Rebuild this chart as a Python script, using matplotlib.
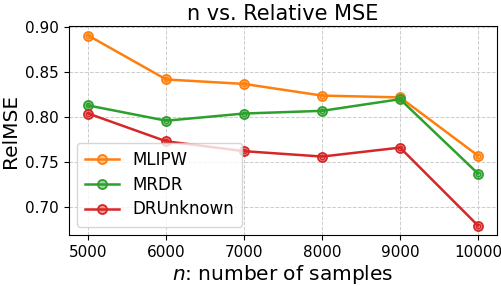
import numpy as np
import matplotlib
matplotlib.use('Agg')
from matplotlib import pyplot as plt

n_samples = [5000, 6000, 7000, 8000, 9000, 10000]
mlipw = [0.891, 0.842, 0.837, 0.824, 0.822, 0.757]
mrdr = [0.813, 0.796, 0.804, 0.807, 0.820, 0.737]
drunknown = [0.804, 0.773, 0.762, 0.756, 0.766, 0.679]

series = [('MLIPW', mlipw, 'tab:orange'),
          ('MRDR', mrdr, 'tab:green'),
          ('DRUnknown', drunknown, 'tab:red')]

fig = plt.figure(figsize=(5.02, 2.86), dpi=100)
ax = fig.add_axes([0.137, 0.178, 0.854, 0.731])

for name, vals, c in series:
    ax.plot(n_samples, vals, color=c, linewidth=1.8, marker='o', markersize=6.5,
            markerfacecolor=matplotlib.colors.to_rgba(c, 0.45), markeredgecolor=c,
            markeredgewidth=1.3, label=name)
    ax.plot(n_samples, vals, linestyle='none', marker='o', markersize=3.2,
            markerfacecolor='none', markeredgecolor=c, markeredgewidth=1.0)

ax.grid(True, linestyle='--', color='#cccccc', linewidth=0.7)
ax.set_axisbelow(True)
ax.set_xticks(n_samples)
ax.set_yticks([0.70, 0.75, 0.80, 0.85, 0.90])
ax.tick_params(labelsize=11)
ax.set_title('n vs. Relative MSE', fontsize=15, pad=4)
ax.set_xlabel('$n$: number of samples', fontsize=14.5, labelpad=2)
ax.set_ylabel('RelMSE', fontsize=14.5, labelpad=4)
ax.legend(loc='lower left', fontsize=12, handlelength=2.0, borderpad=0.5, labelspacing=0.4)

plt.savefig('out.png', dpi=100)
